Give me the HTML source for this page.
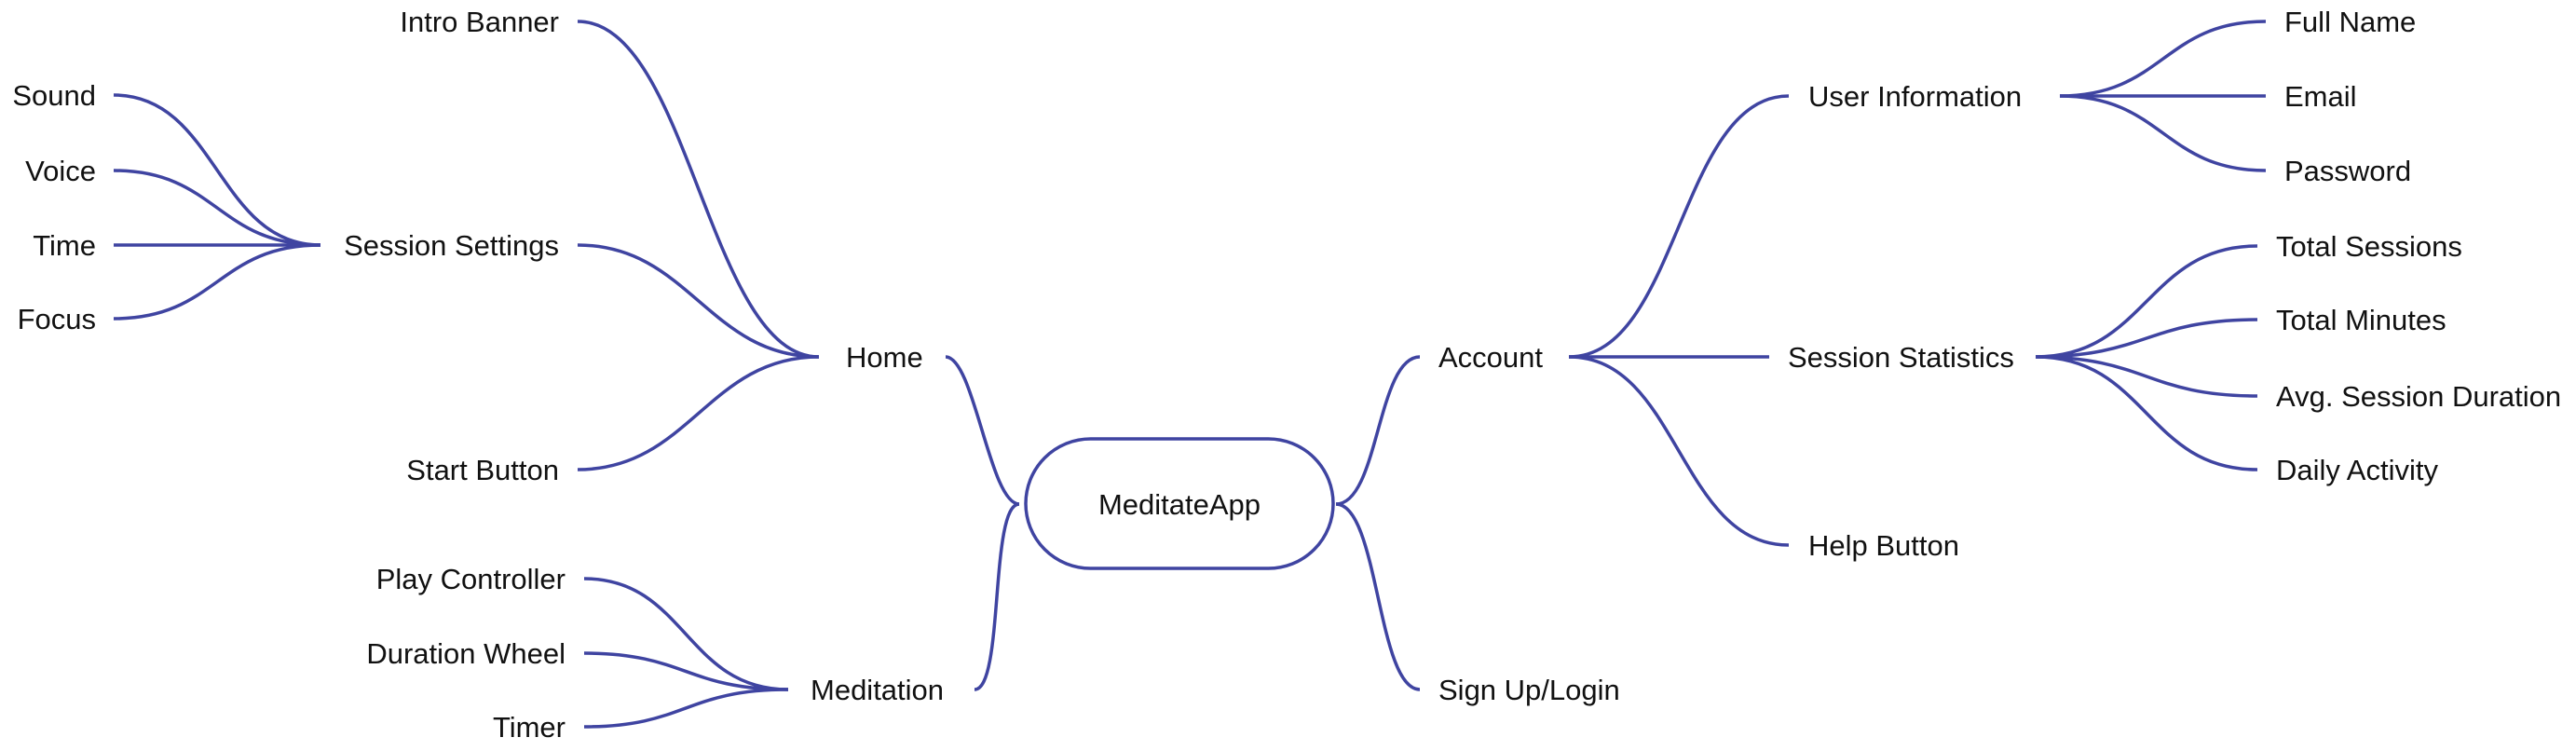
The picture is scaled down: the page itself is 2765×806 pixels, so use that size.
<!DOCTYPE html>
<html><head><meta charset="utf-8"><style>
html,body{margin:0;padding:0;background:#fff;}
svg{display:block;}
text{font-family:"Liberation Sans",sans-serif;font-size:31px;fill:#111;}
path,rect{fill:none;stroke:#3f44a1;stroke-width:3.5;}
</style></head><body>
<svg width="2765" height="806" viewBox="0 0 2765 806">
<rect x="1101" y="471" width="330" height="139" rx="69.5" ry="69.5"/>
<text x="1266" y="552" text-anchor="middle">MeditateApp</text>

<!-- root to branches -->
<path d="M1094,541 C1062,541 1046,383 1015,383"/>
<path d="M1094,541 C1062,541 1078,740 1046,740"/>
<path d="M1434,541 C1480,541 1478,383 1524,383"/>
<path d="M1434,541 C1480,541 1478,740 1524,740"/>

<!-- Home -->
<path d="M879,383 C760,383 740,23 620,23"/>
<path d="M879,383 C760,383 740,263 620,263"/>
<path d="M879,383 C760,383 740,504 620,504"/>
<!-- Session Settings -->
<path d="M344,263 C233,263 233,102 122,102"/>
<path d="M344,263 C233,263 233,183 122,183"/>
<path d="M344,263 L122,263"/>
<path d="M344,263 C233,263 233,342 122,342"/>
<!-- Meditation -->
<path d="M846,740 C736,740 736,621 627,621"/>
<path d="M846,740 C736,740 736,701 627,701"/>
<path d="M846,740 C736,740 736,780 627,780"/>

<!-- Account -->
<path d="M1684,383 C1802,383 1802,103 1920,103"/>
<path d="M1684,383 L1899,383"/>
<path d="M1684,383 C1802,383 1802,585 1920,585"/>
<!-- User info -->
<path d="M2211,103 C2322,103 2322,23 2432,23"/>
<path d="M2211,103 L2432,103"/>
<path d="M2211,103 C2322,103 2322,183 2432,183"/>
<!-- Session stats -->
<path d="M2185,383 C2304,383 2304,264 2423,264"/>
<path d="M2185,383 C2304,383 2304,343 2423,343"/>
<path d="M2185,383 C2304,383 2304,425 2423,425"/>
<path d="M2185,383 C2304,383 2304,504 2423,504"/>

<g text-anchor="end">
<text x="600" y="34">Intro Banner</text>
<text x="600" y="274">Session Settings</text>
<text x="600" y="515">Start Button</text>
<text x="103" y="113">Sound</text>
<text x="103" y="194">Voice</text>
<text x="103" y="274">Time</text>
<text x="103" y="353">Focus</text>
<text x="607" y="632">Play Controller</text>
<text x="607" y="712">Duration Wheel</text>
<text x="607" y="791">Timer</text>
</g>
<text x="908" y="394">Home</text>
<text x="870" y="751">Meditation</text>
<text x="1544" y="394">Account</text>
<text x="1544" y="751">Sign Up/Login</text>
<text x="1941" y="114">User Information</text>
<text x="1919" y="394">Session Statistics</text>
<text x="1941" y="596">Help Button</text>
<text x="2452" y="34">Full Name</text>
<text x="2452" y="114">Email</text>
<text x="2452" y="194">Password</text>
<text x="2443" y="275">Total Sessions</text>
<text x="2443" y="354">Total Minutes</text>
<text x="2443" y="436">Avg. Session Duration</text>
<text x="2443" y="515">Daily Activity</text>
</svg>
</body></html>
